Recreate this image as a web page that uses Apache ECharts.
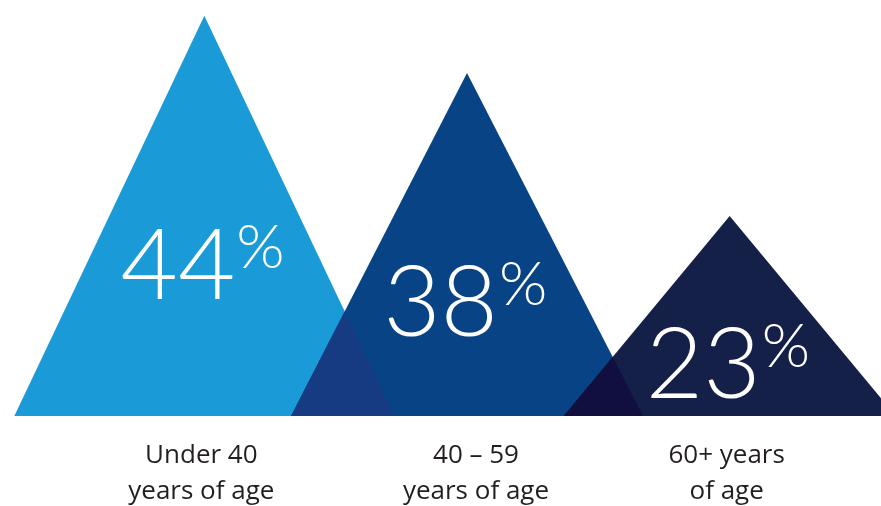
<!DOCTYPE html>
<html>
<head>
<meta charset="utf-8">
<script src="https://cdn.jsdelivr.net/npm/echarts@6/dist/echarts.min.js"></script>
<style>
html,body{margin:0;padding:0;background:#ffffff;}
#chart{width:881px;height:506px;}
</style>
</head>
<body>
<div id="chart"></div>
<script>
// ---- data ----
const categories = ['Under 40\nyears of age', '40 – 59\nyears of age', '60+ years\nof age'];
const values = [44, 38, 23];
const valueSuffix = '%';

// ---- styles / layout ----
const Y_MIN = 2, Y_MAX = 44.5;
const baseHalfWidth = [190, 176, 166];
const digitTopAboveBase = [188, 151, 89];
const triColors = ['#1a9bd7', '#084485', '#152049'];
const overlapColors = ['#173b83', '#110f40'];
const labelShift = [-3, 9, -3];
const digitFont = 'Lato, "Open Sans", sans-serif';

function intersect(p1, p2, p3, p4) {
  const d = (p1[0]-p2[0])*(p3[1]-p4[1]) - (p1[1]-p2[1])*(p3[0]-p4[0]);
  const a = p1[0]*p2[1] - p1[1]*p2[0];
  const b = p3[0]*p4[1] - p3[1]*p4[0];
  return [(a*(p3[0]-p4[0]) - (p1[0]-p2[0])*b)/d, (a*(p3[1]-p4[1]) - (p1[1]-p2[1])*b)/d];
}

function triangle(api, i) {
  const apex = api.coord([i, values[i]]);
  const base = api.coord([i, Y_MIN]);
  const hw = baseHalfWidth[i];
  return { apex: apex, left: [apex[0]-hw, base[1]], right: [apex[0]+hw, base[1]], baseY: base[1] };
}

const chart = echarts.init(document.getElementById('chart'), null, {renderer: 'canvas'});
chart.setOption({
  animation: false,
  grid: { left: 73, right: 20, top: 11, bottom: 90 },
  xAxis: {
    type: 'category',
    data: categories,
    axisLine: { show: false },
    axisTick: { show: false },
    axisLabel: {
      margin: 22,
      interval: 0,
      formatter: function (v, idx) {
        return v.split('\n').map(function (s) { return '{c' + idx + '|' + s + '}'; }).join('\n');
      },
      rich: {
        c0: { fontFamily: '"Open Sans", sans-serif', fontSize: 26, lineHeight: 36, color: '#231f20', padding: [0, -labelShift[0]*2, 0, 0] },
        c1: { fontFamily: '"Open Sans", sans-serif', fontSize: 26, lineHeight: 36, color: '#231f20', padding: [0, 0, 0, labelShift[1]*2] },
        c2: { fontFamily: '"Open Sans", sans-serif', fontSize: 26, lineHeight: 36, color: '#231f20', padding: [0, -labelShift[2]*2, 0, 0] }
      }
    }
  },
  yAxis: { type: 'value', min: Y_MIN, max: Y_MAX, show: false, splitLine: { show: false } },
  series: [{
    type: 'custom',
    clip: false,
    data: values.map(function (v, i) { return [i, v]; }),
    renderItem: function (params, api) {
      const i = params.dataIndex;
      const t = triangle(api, i);
      const children = [{
        type: 'polygon',
        shape: { points: [t.left, t.apex, t.right] },
        style: { fill: triColors[i] }
      }];
      if (i > 0) {
        const p = triangle(api, i - 1);
        if (t.left[0] < p.right[0]) {
          const x = intersect(p.apex, p.right, t.apex, t.left);
          children.push({
            type: 'polygon',
            shape: { points: [t.left, x, p.right] },
            style: { fill: overlapColors[i - 1] }
          });
        }
      }
      const cx = t.apex[0];
      const top = t.baseY - digitTopAboveBase[i];
      children.push({
        type: 'text', z2: 10,
        style: { text: String(values[i]), x: cx + 31, y: top - 10, align: 'right', verticalAlign: 'top',
          font: '300 99px ' + digitFont, fill: '#ffffff' }
      });
      children.push({
        type: 'text', z2: 10,
        style: { text: valueSuffix, x: cx + 32, y: top - 11, align: 'left', verticalAlign: 'top',
          font: '300 62px ' + digitFont, fill: '#ffffff' }
      });
      return { type: 'group', children: children };
    }
  }]
});
</script>
</body>
</html>
